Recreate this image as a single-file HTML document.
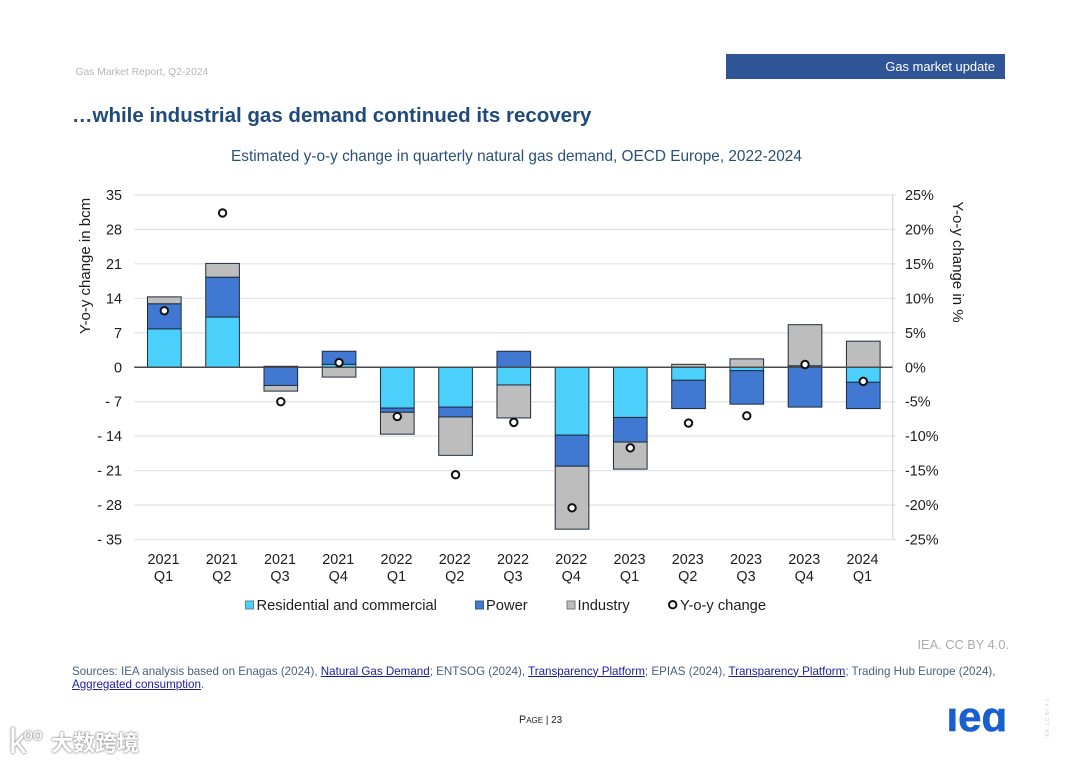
<!DOCTYPE html>
<html lang="en">
<head>
<meta charset="utf-8">
<title>Gas Market Report, Q2-2024 - page 23</title>
<style>
html,body{margin:0;padding:0;background:#fff;}
body{position:relative;width:1080px;height:763px;overflow:hidden;font-family:"Liberation Sans",Arial,sans-serif;}
.abs{position:absolute;white-space:nowrap;}
#chart{position:absolute;left:0;top:0;}
#chart text{font-family:"Liberation Sans",Arial,sans-serif;fill:#1d1d1f;font-size:14.4px;}
#chart text.legend-text{font-size:14.7px;}
#chart text.axis-title{font-size:15px;}
a{color:#1c1c9e;text-decoration:underline;}
</style>
</head>
<body>
<div class="abs" style="left:75.5px;top:67px;font-size:10.3px;line-height:12px;color:#b4b6ba;">Gas Market Report, Q2-2024</div>
<div class="abs" style="left:726px;top:54px;width:279px;height:25px;background:#2f5597;"></div>
<div class="abs" style="right:85px;top:59px;font-size:12.9px;line-height:16px;color:#fff;">Gas market update</div>
<div class="abs" style="left:72px;top:102.5px;font-size:20.5px;line-height:25px;font-weight:bold;color:#1f4a7c;">…while industrial gas demand continued its recovery</div>
<div class="abs" style="left:231px;top:148px;font-size:15.38px;line-height:18px;color:#2a5078;">Estimated y-o-y change in quarterly natural gas demand, OECD Europe, 2022-2024</div>

<svg id="chart" width="1080" height="763" viewBox="0 0 1080 763" xmlns="http://www.w3.org/2000/svg">
  <text class="axis-title" transform="translate(90,266) rotate(-90)" text-anchor="middle">Y-o-y change in bcm</text>
  <text class="axis-title" transform="translate(953,262) rotate(90)" text-anchor="middle">Y-o-y change in %</text>
  <g>
    <rect x="245.5" y="601" width="8" height="8" fill="#4bcffb" stroke="#5a8a9c" stroke-width="1"/>
    <text class="legend-text" x="256.5" y="610">Residential and commercial</text>
    <rect x="475.5" y="601" width="8" height="8" fill="#4178d2" stroke="#3a5a90" stroke-width="1"/>
    <text class="legend-text" x="486" y="610">Power</text>
    <rect x="567" y="601" width="8" height="8" fill="#bdbdbd" stroke="#777" stroke-width="1"/>
    <text class="legend-text" x="577.5" y="610">Industry</text>
    <circle cx="672.7" cy="604.7" r="3.7" fill="#fff" stroke="#111" stroke-width="2"/>
    <text class="legend-text" x="680" y="610">Y-o-y change</text>
  </g>
</svg>

<div class="abs" style="right:71px;top:637px;font-size:12.8px;line-height:16px;color:#a9abae;">IEA. CC BY 4.0.</div>
<div class="abs" style="left:72px;top:664.5px;font-size:11.6px;line-height:13.5px;color:#4a5f7c;">Sources: IEA analysis based on Enagas (2024), <a href="#">Natural Gas Demand</a>; ENTSOG (2024), <a href="#">Transparency Platform</a>; EPIAS (2024), <a href="#">Transparency Platform</a>; Trading Hub Europe (2024),<br><a href="#">Aggregated consumption</a>.</div>
<div class="abs" style="left:519px;top:714px;font-size:9.9px;line-height:12px;color:#222;"><span style="font-variant:small-caps;font-size:10.8px;">Page</span> | 23</div>

<div class="abs" style="left:946.5px;top:691.5px;font-size:42px;line-height:50px;font-weight:bold;color:#1a5fd0;-webkit-text-stroke:0.6px #1a5fd0;">ıeɑ</div>
<div class="abs" style="left:1045px;top:738px;transform-origin:0 0;transform:rotate(-90deg);font-size:5px;line-height:6px;letter-spacing:.4px;color:#d2d4d6;">IEA. CC BY 4.0.</div>

<div class="abs" style="left:9px;top:724px;font-size:35px;line-height:36px;color:#fff;text-shadow:0 0 2px #8f8f8f,0 0 2px #8f8f8f;">k<span style="font-size:17px;position:relative;top:-13px;left:-3px;">oo</span></div>
<div class="abs" style="left:51px;top:731px;font-family:'Liberation Sans','Noto Sans CJK SC',sans-serif;font-size:22px;line-height:26px;font-weight:bold;color:#fff;text-shadow:0 0 2px #8f8f8f,0 0 2px #8f8f8f;">大数跨境</div>

<script>
const categories = ["2021 Q1","2021 Q2","2021 Q3","2021 Q4","2022 Q1","2022 Q2","2022 Q3","2022 Q4","2023 Q1","2023 Q2","2023 Q3","2023 Q4","2024 Q1"];
const residential = [7.8,10.2,0.2,0.6,-8.3,-8.1,-3.6,-13.8,-10.2,-2.65,-0.7,0.3,-3.05];
const power = [5.1,8.1,-3.7,2.65,-0.85,-2.0,3.25,-6.3,-5.0,-5.75,-6.8,-8.1,-5.35];
const industry = [1.4,2.8,-1.15,-2.0,-4.45,-7.8,-6.7,-12.8,-5.5,0.6,1.7,8.35,5.3];
const yoyPercent = [8.2,22.4,-5.0,0.67,-7.15,-15.6,-8.0,-20.4,-11.7,-8.1,-7.05,0.4,-2.05];
const bcmTicks = [35,28,21,14,7,0,-7,-14,-21,-28,-35];
const bcmTickLabels = ["35","28","21","14","7","0","- 7","- 14","- 21","- 28","- 35"];
const percentTicks = [25,20,15,10,5,0,-5,-10,-15,-20,-25];
const percentTickLabels = ["25%","20%","15%","10%","5%","0%","-5%","-10%","-15%","-20%","-25%"];

const NS = "http://www.w3.org/2000/svg";
const svg = document.getElementById("chart");
const plot = {left:135.2, right:892.4, top:195, bottom:539.5};
const bcmMax = Math.max(...bcmTicks), bcmMin = Math.min(...bcmTicks);
const pctMax = Math.max(...percentTicks), pctMin = Math.min(...percentTicks);
const yBcm = v => plot.top + (bcmMax - v) / (bcmMax - bcmMin) * (plot.bottom - plot.top);
const yPct = v => plot.top + (pctMax - v) / (pctMax - pctMin) * (plot.bottom - plot.top);
const band = (plot.right - plot.left) / categories.length;
const xCenter = i => plot.left + band * (i + 0.5);
const barWidth = band * 0.578;

function make(tag, props, parent) {
  const el = document.createElementNS(NS, tag);
  for (const k in props) el.setAttribute(k, props[k]);
  (parent || svg).appendChild(el);
  return el;
}

bcmTicks.forEach((v, i) => {
  const y = yBcm(v);
  if (v !== 0) {
    const grid = make("line", {x1:plot.left - 1, x2:plot.right + 3.5, y1:y, y2:y, stroke:"#e4e4e6", "stroke-width":1.3});
    
    
  }
  const label = make("text", {x:122, y:y + 5, "text-anchor":"end"});
  
  
  label.textContent = bcmTickLabels[i];
});

percentTicks.forEach((v, i) => {
  const label = make("text", {x:905, y:yPct(v) + 5});
  
  
  label.textContent = percentTickLabels[i];
});

const rightAxis = make("line", {x1:plot.right + 0.3, x2:plot.right + 0.3, y1:plot.top, y2:plot.bottom, stroke:"#d6d6d8", "stroke-width":1.2});



const seriesNames = ["residential","power","industry"];
const seriesValues = [residential, power, industry];
const seriesColors = ["#4bcffb","#4178d2","#bdbdbd"];

categories.forEach((cat, i) => {
  let pos = 0, neg = 0;
  seriesValues.forEach((vals, s) => {
    const v = vals[i];
    let a, b;
    if (v >= 0) { a = pos; b = pos + v; pos = b; }
    else { a = neg; b = neg + v; neg = b; }
    const y0 = yBcm(Math.max(a, b)), y1 = yBcm(Math.min(a, b));
    const bar = make("rect", {x:xCenter(i) - barWidth / 2, y:y0, width:barWidth, height:y1 - y0, fill:seriesColors[s], stroke:"#1e2c3e", "stroke-width":1});
    
    
  });
  const parts = cat.split(" ");
  const yearLabel = make("text", {x:xCenter(i) - 0.8, y:564, "text-anchor":"middle"});
  
  
  yearLabel.textContent = parts[0];
  const quarterLabel = make("text", {x:xCenter(i) - 0.8, y:581, "text-anchor":"middle"});
  
  
  quarterLabel.textContent = parts[1];
});

const zeroLine = make("line", {x1:plot.left - 1, x2:plot.right, y1:yBcm(0), y2:yBcm(0), stroke:"#4a4a4c", "stroke-width":1.4});



yoyPercent.forEach((v, i) => {
  const dot = make("circle", {cx:xCenter(i), cy:yPct(v), r:3.7, fill:"#fff", stroke:"#111", "stroke-width":2});
  
  
});
</script>
</body>
</html>
